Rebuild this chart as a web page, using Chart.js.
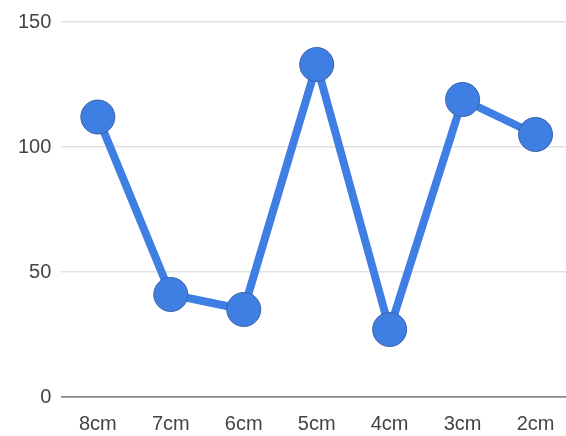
<!DOCTYPE html>
<html>
<head>
<meta charset="utf-8">
<script src="https://cdn.jsdelivr.net/npm/chart.js@4/dist/chart.umd.min.js"></script>
<style>
  html, body { margin: 0; padding: 0; background: #fff; overflow: hidden; }
  #wrap { position: relative; width: 572px; height: 436px; }
</style>
</head>
<body>
<div id="wrap"><canvas id="sizeChart"></canvas></div>
<script>
const categories = ['8cm', '7cm', '6cm', '5cm', '4cm', '3cm', '2cm'];
const values = [112, 41, 35, 133, 27, 119, 105];
const yTicks = [0, 50, 100, 150];

const canvas = document.getElementById('sizeChart');

new Chart(canvas, {
  type: 'line',
  data: {
    labels: categories,
    datasets: [
      {
        data: values,
        borderColor: '#3f7fe3',
        borderWidth: 8,
        backgroundColor: '#3f7fe3',
        pointRadius: 17,
        pointBorderColor: '#3a62a8',
        pointBorderWidth: 1,
        pointBackgroundColor: '#3f7fe3',
        tension: 0,
        fill: false,
        clip: false,
      },
    ],
  },
  options: {
    responsive: true,
    maintainAspectRatio: false,
    animation: false,
    // the plot runs a little past the right edge of the window
    layout: { autoPadding: false, padding: { top: 12, left: 8, right: 0, bottom: 0 } },
    plugins: {
      legend: { display: false },
      tooltip: { enabled: false },
    },
    scales: {
      x: {
        offset: true,
        grid: { display: false, drawTicks: false },
        border: { display: true, color: '#8a8a8a', width: 1.5 },
        ticks: {
          padding: 15,
          color: '#444',
          font: { family: 'Liberation Sans, Arial, sans-serif', size: 20 },
        },
        afterFit: (axis) => {
          axis.height = 39;
        },
      },
      y: {
        min: 0,
        max: 150,
        afterBuildTicks: (axis) => {
          axis.ticks = yTicks.map((v) => ({ value: v }));
        },
        border: { display: false },
        grid: {
          drawTicks: false,
          color: (ctx) => (ctx.tick && ctx.tick.value === 0 ? '#8a8a8a' : '#e2e2e2'),
          lineWidth: 1.5,
        },
        ticks: {
          padding: 10,
          color: '#444',
          font: { family: 'Liberation Sans, Arial, sans-serif', size: 20 },
        },
      },
    },
  },
});
</script>
</body>
</html>
